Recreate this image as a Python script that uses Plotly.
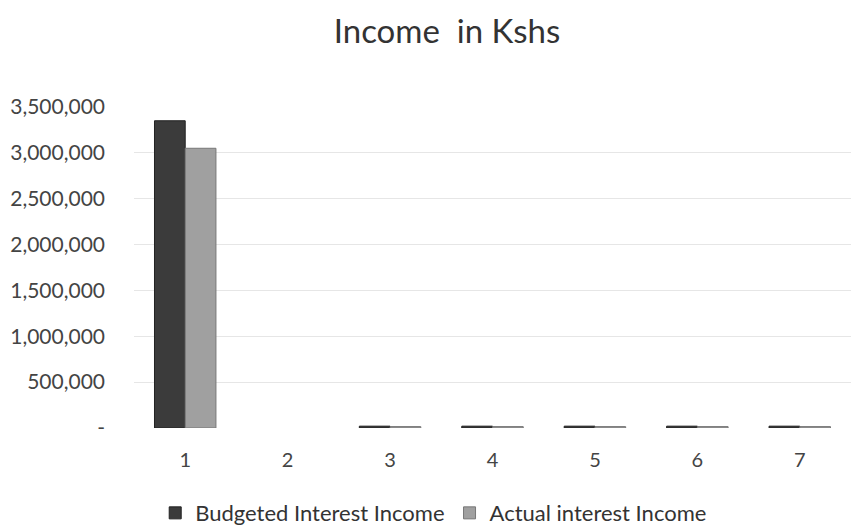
import plotly.graph_objects as go

categories = ["1", "2", "3", "4", "5", "6", "7"]
budgeted = [3350000, None, 20000, 20000, 20000, 20000, 20000]
actual = [3050000, None, 15000, 15000, 15000, 15000, 15000]
tick_vals = [0, 500000, 1000000, 1500000, 2000000, 2500000, 3000000, 3500000]
tick_text = ["-", "500,000", "1,000,000", "1,500,000", "2,000,000", "2,500,000", "3,000,000", "3,500,000"]

FONT = "Lato, 'Open Sans', sans-serif"

fig = go.Figure()
fig.add_trace(go.Bar(x=categories, y=budgeted, name="Budgeted Interest Income",
                     marker=dict(color="#3b3b3b", line=dict(color="#222222", width=1))))
fig.add_trace(go.Bar(x=categories, y=actual, name="Actual interest Income",
                     marker=dict(color="#a0a0a0", line=dict(color="#777777", width=1))))

fig.update_layout(
    width=858, height=525,
    margin=dict(l=134, r=7, t=107, b=97, autoexpand=False),
    paper_bgcolor="white", plot_bgcolor="white",
    barmode="group", bargap=0.4, bargroupgap=0.0,
    title=dict(text="Income  in Kshs", x=0.521, xref="container", xanchor="center",
               y=0.94, yanchor="middle", font=dict(family=FONT, size=33, color="#333333")),
    font=dict(family=FONT, color="#444444"),
    legend=dict(orientation="h", x=0.418, xanchor="center", y=-0.265, yanchor="middle",
                font=dict(size=22, color="#333333"), itemwidth=30, traceorder="normal"),
    xaxis=dict(type="category", showgrid=False, showline=False, ticks="",
               tickfont=dict(size=20, color="#444444"), ticklabelstandoff=18),
    yaxis=dict(range=[0, 3500000], tickvals=tick_vals, ticktext=tick_text,
               showgrid=True, gridcolor="#e6e6e6", gridwidth=1, zeroline=False,
               tickfont=dict(size=21, color="#444444"), ticklabelstandoff=28),
)

fig.write_html("out.html")
